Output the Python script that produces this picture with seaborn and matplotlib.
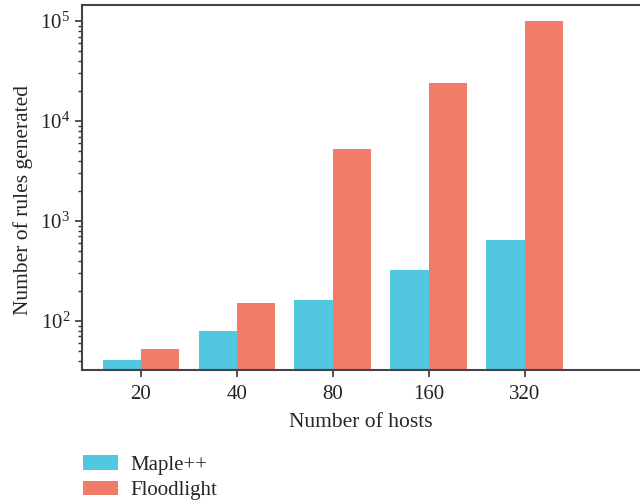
import numpy as np
import pandas as pd
import matplotlib
matplotlib.use("Agg")
import matplotlib.pyplot as plt
import seaborn as sns

hosts = ["20", "40", "80", "160", "320"]
maple = [41, 80, 161, 322, 640]
floodlight = [52, 150, 5300, 24000, 100000]

df = pd.DataFrame({
    "hosts": hosts * 2,
    "rules": maple + floodlight,
    "method": ["Maple++"] * len(hosts) + ["Floodlight"] * len(hosts),
})

sns.set_style("ticks")
plt.rcParams["font.family"] = ["Liberation Serif", "DejaVu Serif"]
plt.rcParams["mathtext.fontset"] = "custom"
plt.rcParams["mathtext.rm"] = "Liberation Serif"
plt.rcParams["mathtext.it"] = "Liberation Serif:italic"

fig = plt.figure(figsize=(6.4, 5.04), dpi=100)
ax = fig.add_axes([0.128, 0.266, 0.872, 0.724])

sns.barplot(data=df, x="hosts", y="rules", hue="method", order=hosts,
            palette=["#52C7E0", "#F27C6A"], width=0.8, saturation=1,
            linewidth=0, ax=ax, legend=True)
ax.set_yscale("log")
ax.set_ylim(32.4, 144500)
ax.set_xlim(-0.615, 5.2)

ax.set_xlabel("Number of hosts", fontsize=15.5)
ax.set_ylabel("Number of rules generated", fontsize=15.5)
ax.xaxis.set_label_coords(0.5, -0.118)
ax.yaxis.set_label_coords(-0.088, 0.465)
ax.tick_params(axis="both", which="major", labelsize=15, direction="out",
               length=5, width=1.2, color="#333333", labelcolor="#222222")
ax.tick_params(axis="x", which="major", pad=6)
ax.tick_params(axis="y", which="minor", length=3, width=1, color="#333333")

for side in ["left", "bottom", "top"]:
    ax.spines[side].set_color("#444444")
    ax.spines[side].set_linewidth(1.5)
ax.spines["right"].set_visible(False)

handles, labels = ax.get_legend_handles_labels()
ax.get_legend().remove()
fig.legend(handles, labels, loc="lower left", bbox_to_anchor=(0.1, -0.03),
           frameon=False, fontsize=15, handlelength=1.7, handleheight=0.7,
           labelspacing=0.3, handletextpad=0.6)

fig.savefig("out.png", dpi=100)
